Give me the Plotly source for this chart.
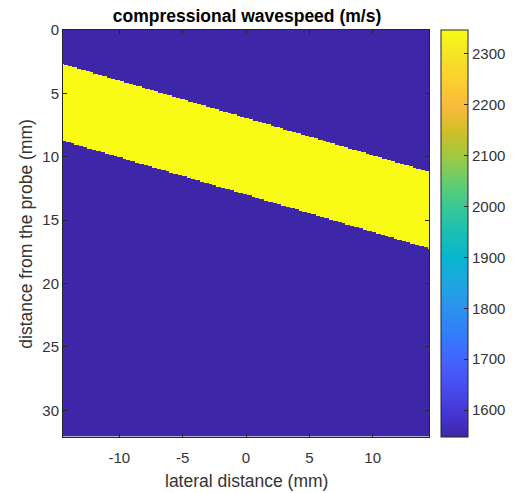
import numpy as np
import plotly.graph_objects as go

# ---- data ----
lateral_mm = np.round(np.arange(-14.4, 14.4001, 0.1), 2)   # column centres
depth_mm = np.round(np.arange(0.0, 32.0001, 0.1), 2)       # row centres
background_speed = 1547.0     # m/s
layer_speed = 2347.0          # m/s
layer_top_left = 2.68         # depth of layer top at left edge (mm)
layer_top_right = 11.18       # depth of layer top at right edge (mm)
layer_thickness = 6.05        # vertical thickness of layer (mm)
cbar_ticks = [1600, 1700, 1800, 1900, 2000, 2100, 2200, 2300]
x_ticks = [-10, -5, 0, 5, 10]
x_tick_text = ["-10", "-5", "0", "5", "10"]
y_ticks = [0, 5, 10, 15, 20, 25, 30]

# speed map
X, Y = np.meshgrid(lateral_mm, depth_mm)
x0, x1 = -14.45, 14.45
top = layer_top_left + (layer_top_right - layer_top_left) * (X - x0) / (x1 - x0)
speed = np.where((Y >= top) & (Y <= top + layer_thickness), layer_speed, background_speed)

parula = [
    [0.2422, 0.1504, 0.6603], [0.2706, 0.2147, 0.8364], [0.2813, 0.3006, 0.9414],
    [0.2699, 0.3892, 0.9906], [0.1963, 0.4847, 0.9892], [0.1687, 0.5703, 0.9359],
    [0.1248, 0.6459, 0.8883], [0.0297, 0.7082, 0.8163], [0.0964, 0.7500, 0.7120],
    [0.2161, 0.7843, 0.5923], [0.3909, 0.8029, 0.4354], [0.6174, 0.7876, 0.2612],
    [0.8203, 0.7498, 0.1535], [0.9728, 0.7298, 0.2394], [0.9892, 0.8136, 0.1885],
    [0.9610, 0.8890, 0.1537], [0.9769, 0.9839, 0.0805],
]
n = len(parula)
colorscale = [[i / (n - 1), "rgb(%d,%d,%d)" % tuple(int(round(c * 255)) for c in col)]
              for i, col in enumerate(parula)]

FONT = "Liberation Sans, Arial, Helvetica, sans-serif"
TXT = "#333333"
AX = "#262626"

fig = go.Figure(go.Heatmap(
    x=lateral_mm, y=depth_mm, z=speed,
    colorscale=colorscale, zmin=background_speed, zmax=layer_speed,
    zsmooth=False,
    colorbar=dict(
        x=1.0 + 12 / 368, xanchor="left", xpad=0, ypad=0,
        y=0.5, yanchor="middle", len=1.0, lenmode="fraction",
        thickness=27, thicknessmode="pixels",
        outlinewidth=1, outlinecolor=AX,
        tickvals=cbar_ticks, ticks="inside", ticklen=4, tickcolor=AX,
        tickfont=dict(family=FONT, size=15, color=TXT),
    ),
))

fig.update_layout(
    width=522, height=493, autosize=False,
    margin=dict(l=63, r=91, t=30, b=56, pad=0),
    paper_bgcolor="white", plot_bgcolor="white",
    font=dict(family=FONT, color=TXT),
    title=dict(text="<b>compressional wavespeed (m/s)</b>", x=0.5 * (63 + 431) / 522,
               xanchor="center", y=1 - 16 / 493, yanchor="middle", yref="container",
               font=dict(family=FONT, size=17.5, color="#000000")),
    xaxis=dict(range=[-14.45, 14.45], tickvals=x_ticks, ticktext=x_tick_text,
               ticks="inside", ticklen=4, ticklabelstandoff=7,
               tickcolor=AX, showline=True, linecolor=AX, linewidth=1, mirror="ticks",
               showgrid=False, zeroline=False,
               tickfont=dict(family=FONT, size=15, color=TXT)),
    yaxis=dict(range=[32.1, 0], tickvals=y_ticks, ticks="inside", ticklen=4,
               tickcolor=AX, showline=True, linecolor=AX, linewidth=1, mirror="ticks",
               showgrid=False, zeroline=False,
               tickfont=dict(family=FONT, size=15, color=TXT)),
    annotations=[
        dict(text="lateral distance (mm)", xref="paper", yref="paper",
             x=0.5, y=(437 - 481) / 407, xanchor="center", yanchor="middle",
             showarrow=False, font=dict(family=FONT, size=17.5, color=TXT)),
        dict(text="distance from the probe (mm)", xref="paper", yref="paper",
             x=(25 - 63) / 368, y=0.5, xanchor="center", yanchor="middle",
             textangle=-90, showarrow=False,
             font=dict(family=FONT, size=17.5, color=TXT)),
    ],
)

fig.write_html("out.html")
